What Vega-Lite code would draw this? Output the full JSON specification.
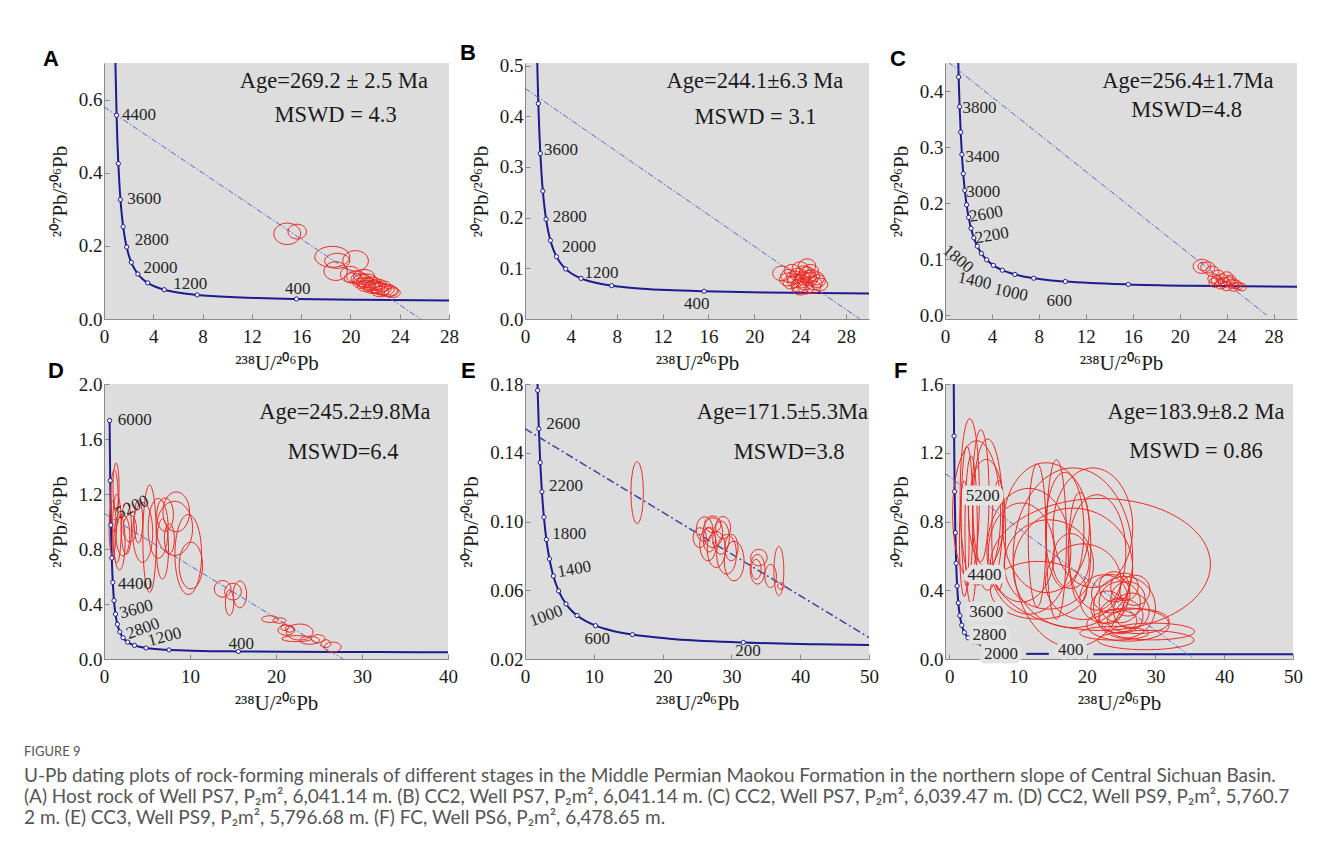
{
"$schema": "https://vega.github.io/schema/vega-lite/v6.json",
"background": "white",
"padding": {"left": 24, "top": 41, "right": 10, "bottom": 20},
"title": {"text": "FIGURE 9", "subtitle": ["U-Pb dating plots of rock-forming minerals of different stages in the Middle Permian Maokou Formation in the northern slope of Central Sichuan Basin.", "(A) Host rock of Well PS7, P₂m², 6,041.14 m. (B) CC2, Well PS7, P₂m², 6,041.14 m. (C) CC2, Well PS7, P₂m², 6,039.47 m. (D) CC2, Well PS9, P₂m², 5,760.7", "2 m. (E) CC3, Well PS9, P₂m², 5,796.68 m. (F) FC, Well PS6, P₂m², 6,478.65 m."], "orient": "bottom", "anchor": "start", "frame": "bounds", "offset": 33, "dx": -19, "font": "Lato", "fontSize": 13, "fontWeight": "normal", "color": "#555555", "subtitleFont": "Lato", "subtitleFontSize": 19, "subtitleColor": "#555555", "subtitlePadding": 8, "subtitleLineHeight": 21},
"datasets": {
"conc": [
{"t":6000,"x":0.6509,"y":1.7342},{"t":5600,"x":0.7226,"y":1.2968},{"t":5200,"x":0.8062,"y":0.9738},{"t":4800,"x":0.9045,"y":0.7347},{"t":4400,"x":1.0215,"y":0.5571},{"t":4200,"x":1.0887,"y":0.4862},{"t":4000,"x":1.163,"y":0.425},{"t":3800,"x":1.2453,"y":0.3721},{"t":3600,"x":1.337,"y":0.3264},{"t":3400,"x":1.4397,"y":0.2867},{"t":3200,"x":1.5557,"y":0.2524},{"t":3000,"x":1.6875,"y":0.2227},{"t":2800,"x":1.8384,"y":0.1968},{"t":2600,"x":2.0129,"y":0.1744},{"t":2400,"x":2.217,"y":0.1548},{"t":2200,"x":2.4586,"y":0.1378},{"t":2000,"x":2.749,"y":0.123},{"t":1800,"x":3.1046,"y":0.11},{"t":1600,"x":3.5496,"y":0.0987},{"t":1400,"x":4.1227,"y":0.0888},{"t":1200,"x":4.8876,"y":0.0801},{"t":1000,"x":5.9595,"y":0.0725},{"t":900,"x":6.6743,"y":0.069},{"t":800,"x":7.5636,"y":0.0658},{"t":700,"x":8.7183,"y":0.0628},{"t":600,"x":10.2518,"y":0.0599},{"t":500,"x":12.3996,"y":0.0572},{"t":400,"x":15.6211,"y":0.0547},{"t":300,"x":20.992,"y":0.0523},{"t":200,"x":31.735,"y":0.0501},{"t":150,"x":42.48,"y":0.0491},{"t":100,"x":63.97,"y":0.048}
],
"concE": [
{"t":3200,"x":1.5557,"y":0.2319},{"t":3000,"x":1.6875,"y":0.2022},{"t":2800,"x":1.8384,"y":0.1763},{"t":2600,"x":2.0129,"y":0.1539},{"t":2400,"x":2.217,"y":0.1343},{"t":2200,"x":2.4586,"y":0.1173},{"t":2000,"x":2.749,"y":0.1025},{"t":1800,"x":3.1046,"y":0.0895},{"t":1600,"x":3.5496,"y":0.0782},{"t":1400,"x":4.1227,"y":0.0683},{"t":1200,"x":4.8876,"y":0.0596},{"t":1000,"x":5.9595,"y":0.052},{"t":900,"x":6.6743,"y":0.0485},{"t":800,"x":7.5636,"y":0.0453},{"t":700,"x":8.7183,"y":0.0423},{"t":600,"x":10.2518,"y":0.0394},{"t":500,"x":12.3996,"y":0.0367},{"t":400,"x":15.6211,"y":0.0342},{"t":300,"x":20.992,"y":0.0318},{"t":200,"x":31.735,"y":0.0296},{"t":150,"x":42.48,"y":0.0286},{"t":100,"x":63.97,"y":0.0275}
],
"concF": [
{"s":1,"t":6000,"x":0.6509,"y":1.7342},{"s":1,"t":5600,"x":0.7226,"y":1.2968},{"s":1,"t":5200,"x":0.8062,"y":0.9738},{"s":1,"t":4800,"x":0.9045,"y":0.7347},{"s":1,"t":4400,"x":1.0215,"y":0.5571},{"s":1,"t":4200,"x":1.0887,"y":0.4862},{"s":1,"t":4000,"x":1.163,"y":0.425},{"s":1,"t":3600,"x":1.337,"y":0.3264},{"s":1,"t":3200,"x":1.5557,"y":0.2524},{"s":1,"t":2800,"x":1.8384,"y":0.1968},{"s":1,"t":2400,"x":2.217,"y":0.1548},{"s":1,"t":2000,"x":2.749,"y":0.123},{"s":1,"t":1600,"x":3.5496,"y":0.0987},{"s":1,"t":1200,"x":4.8876,"y":0.0801},
{"s":2,"t":0,"x":11.2,"y":0.03},{"s":2,"t":0,"x":14.5,"y":0.03},{"s":3,"t":0,"x":21,"y":0.028},{"s":3,"t":0,"x":50,"y":0.028}
],
"disc": [
{"p":"A","x":0,"y":0.58},{"p":"A","x":25.7,"y":0},
{"p":"B","x":0,"y":0.455},{"p":"B","x":29.2,"y":0},
{"p":"C","x":0.25,"y":0.452},{"p":"C","x":27.4,"y":0},
{"p":"D","x":0,"y":1.06},{"p":"D","x":27.8,"y":0},
{"p":"E","x":0,"y":0.154},{"p":"E","x":50,"y":0.0325},
{"p":"F","x":-0.6,"y":1.08},{"p":"F","x":35.6,"y":0}
],
"ann": [
{"p":"A","x":18.66,"y":0.651,"text":"Age=269.2 ± 2.5 Ma"},{"p":"A","x":18.8,"y":0.558,"text":"MSWD = 4.3"},
{"p":"B","x":20.05,"y":0.469,"text":"Age=244.1±6.3 Ma"},{"p":"B","x":20.1,"y":0.398,"text":"MSWD = 3.1"},
{"p":"C","x":20.7,"y":0.418,"text":"Age=256.4±1.7Ma"},{"p":"C","x":20.6,"y":0.366,"text":"MSWD=4.8"},
{"p":"D","x":28.0,"y":1.8,"text":"Age=245.2±9.8Ma"},{"p":"D","x":27.8,"y":1.505,"text":"MSWD=6.4"},
{"p":"E","x":37.4,"y":0.1639,"text":"Age=171.5±5.3Ma"},{"p":"E","x":38.4,"y":0.1406,"text":"MSWD=3.8"},
{"p":"F","x":35.9,"y":1.438,"text":"Age=183.9±8.2 Ma"},{"p":"F","x":35.9,"y":1.213,"text":"MSWD = 0.86"}
],
"lab": [
{"p":"A","x":2.85,"y":0.558,"text":"4400"},{"p":"A","x":3.26,"y":0.327,"text":"3600"},{"p":"A","x":3.88,"y":0.215,"text":"2800"},{"p":"A","x":4.58,"y":0.14,"text":"2000"},{"p":"A","x":7.0,"y":0.095,"text":"1200"},{"p":"A","x":15.73,"y":0.081,"text":"400"},
{"p":"B","x":3.14,"y":0.333,"text":"3600"},{"p":"B","x":3.9,"y":0.2016,"text":"2800"},{"p":"B","x":4.72,"y":0.142,"text":"2000"},{"p":"B","x":6.68,"y":0.09,"text":"1200"},{"p":"B","x":14.98,"y":0.029,"text":"400"},
{"p":"C","x":2.94,"y":0.37,"text":"3800"},{"p":"C","x":3.2,"y":0.283,"text":"3400"},{"p":"C","x":3.25,"y":0.22,"text":"3000"},{"p":"C","x":3.5,"y":0.18,"text":"2600"},{"p":"C","x":4.0,"y":0.142,"text":"2200"},{"p":"C","x":1.1,"y":0.1,"text":"1800"},{"p":"C","x":2.52,"y":0.061,"text":"1400"},{"p":"C","x":5.62,"y":0.04,"text":"1000"},{"p":"C","x":9.73,"y":0.025,"text":"600"},
{"p":"D","x":3.57,"y":1.736,"text":"6000"},{"p":"D","x":3.3,"y":1.105,"text":"5200"},{"p":"D","x":3.6,"y":0.548,"text":"4400"},{"p":"D","x":3.76,"y":0.361,"text":"3600"},{"p":"D","x":4.53,"y":0.22,"text":"2800"},{"p":"D","x":7.06,"y":0.16,"text":"1200"},{"p":"D","x":15.97,"y":0.107,"text":"400"},
{"p":"E","x":5.57,"y":0.1566,"text":"2600"},{"p":"E","x":5.95,"y":0.1207,"text":"2200"},{"p":"E","x":6.44,"y":0.0926,"text":"1800"},{"p":"E","x":7.16,"y":0.0722,"text":"1400"},{"p":"E","x":3.07,"y":0.045,"text":"1000"},{"p":"E","x":10.5,"y":0.0315,"text":"600"},{"p":"E","x":32.4,"y":0.0247,"text":"200"},
{"p":"F","x":4.9,"y":0.95,"text":"5200"},{"p":"F","x":5.13,"y":0.49,"text":"4400"},{"p":"F","x":5.38,"y":0.275,"text":"3600"},{"p":"F","x":5.86,"y":0.139,"text":"2800"},{"p":"F","x":7.56,"y":0.031,"text":"2000"},{"p":"F","x":17.7,"y":0.051,"text":"400"}
],
"ell": [
{"p":"A","x":14.87,"y":0.233,"a":1.09,"r":"0.8"},{"p":"A","x":15.68,"y":0.239,"a":0.75,"r":"0.8"},{"p":"A","x":18.53,"y":0.17,"a":1.42,"r":"0.6"},{"p":"A","x":18.93,"y":0.159,"a":1.02,"r":"0.6"},{"p":"A","x":20.42,"y":0.159,"a":1.04,"r":"0.8"},{"p":"A","x":18.8,"y":0.131,"a":0.95,"r":"0.8"},{"p":"A","x":20.0,"y":0.122,"a":0.81,"r":"0.8"},
{"p":"A","x":20.5,"y":0.115,"a":0.8,"r":"0.6"},{"p":"A","x":20.8,"y":0.11,"a":0.75,"r":"0.6"},{"p":"A","x":21.0,"y":0.105,"a":0.8,"r":"0.6"},{"p":"A","x":21.2,"y":0.1,"a":0.7,"r":"0.6"},{"p":"A","x":21.4,"y":0.108,"a":0.75,"r":"0.6"},{"p":"A","x":21.5,"y":0.095,"a":0.8,"r":"0.6"},{"p":"A","x":21.7,"y":0.1,"a":0.75,"r":"0.6"},{"p":"A","x":21.9,"y":0.092,"a":0.7,"r":"0.6"},{"p":"A","x":22.0,"y":0.088,"a":0.8,"r":"0.6"},{"p":"A","x":22.2,"y":0.095,"a":0.7,"r":"0.6"},{"p":"A","x":22.3,"y":0.085,"a":0.75,"r":"0.6"},{"p":"A","x":22.5,"y":0.082,"a":0.8,"r":"0.6"},{"p":"A","x":22.6,"y":0.09,"a":0.7,"r":"0.6"},{"p":"A","x":22.8,"y":0.08,"a":0.75,"r":"0.6"},{"p":"A","x":23.0,"y":0.078,"a":0.8,"r":"0.6"},{"p":"A","x":23.2,"y":0.076,"a":0.7,"r":"0.6"},{"p":"A","x":21.1,"y":0.118,"a":0.85,"r":"0.6"},{"p":"A","x":20.2,"y":0.112,"a":0.7,"r":"0.6"},{"p":"A","x":21.8,"y":0.085,"a":0.75,"r":"0.6"},{"p":"A","x":22.4,"y":0.075,"a":0.7,"r":"0.6"},{"p":"A","x":23.4,"y":0.072,"a":0.65,"r":"0.6"},{"p":"A","x":21.3,"y":0.09,"a":0.75,"r":"0.6"},{"p":"A","x":20.9,"y":0.098,"a":0.7,"r":"0.6"},
{"p":"B","x":23.0,"y":0.085,"a":0.7,"r":"0.8"},{"p":"B","x":23.3,"y":0.095,"a":0.7,"r":"0.8"},{"p":"B","x":23.6,"y":0.075,"a":0.7,"r":"0.8"},{"p":"B","x":23.8,"y":0.088,"a":0.7,"r":"0.8"},{"p":"B","x":24.0,"y":0.1,"a":0.7,"r":"0.8"},{"p":"B","x":24.2,"y":0.08,"a":0.7,"r":"0.8"},{"p":"B","x":24.4,"y":0.07,"a":0.7,"r":"0.8"},{"p":"B","x":24.6,"y":0.09,"a":0.7,"r":"0.8"},{"p":"B","x":24.8,"y":0.078,"a":0.7,"r":"0.8"},{"p":"B","x":25.0,"y":0.085,"a":0.7,"r":"0.8"},{"p":"B","x":25.2,"y":0.07,"a":0.7,"r":"0.8"},{"p":"B","x":25.5,"y":0.075,"a":0.7,"r":"0.8"},{"p":"B","x":23.2,"y":0.072,"a":0.7,"r":"0.8"},{"p":"B","x":23.9,"y":0.066,"a":0.7,"r":"0.8"},{"p":"B","x":24.5,"y":0.062,"a":0.7,"r":"0.8"},{"p":"B","x":25.1,"y":0.063,"a":0.7,"r":"0.8"},{"p":"B","x":25.7,"y":0.068,"a":0.7,"r":"0.8"},{"p":"B","x":24.3,"y":0.092,"a":0.7,"r":"0.8"},{"p":"B","x":23.5,"y":0.082,"a":0.7,"r":"0.8"},{"p":"B","x":24.7,"y":0.083,"a":0.7,"r":"0.8"},{"p":"B","x":24.1,"y":0.074,"a":0.7,"r":"0.8"},{"p":"B","x":25.4,"y":0.08,"a":0.7,"r":"0.8"},{"p":"B","x":22.9,"y":0.078,"a":0.7,"r":"0.8"},{"p":"B","x":24.0,"y":0.06,"a":0.7,"r":"0.8"},{"p":"B","x":24.9,"y":0.095,"a":0.7,"r":"0.8"},{"p":"B","x":22.4,"y":0.09,"a":0.8,"r":"0.8"},{"p":"B","x":24.6,"y":0.105,"a":0.75,"r":"0.8"},
{"p":"C","x":21.9,"y":0.087,"a":0.75,"r":"0.8"},{"p":"C","x":22.0,"y":0.087,"a":0.45,"r":"0.8"},{"p":"C","x":22.4,"y":0.085,"a":0.6,"r":"0.8"},{"p":"C","x":22.8,"y":0.078,"a":0.55,"r":"0.8"},{"p":"C","x":23.3,"y":0.072,"a":0.5,"r":"0.8"},{"p":"C","x":23.6,"y":0.065,"a":0.5,"r":"0.8"},{"p":"C","x":24.0,"y":0.068,"a":0.55,"r":"0.8"},{"p":"C","x":23.2,"y":0.062,"a":0.5,"r":"0.8"},{"p":"C","x":23.8,"y":0.058,"a":0.5,"r":"0.8"},{"p":"C","x":24.2,"y":0.06,"a":0.5,"r":"0.8"},{"p":"C","x":24.5,"y":0.056,"a":0.5,"r":"0.8"},{"p":"C","x":24.8,"y":0.055,"a":0.45,"r":"0.8"},{"p":"C","x":23.5,"y":0.055,"a":0.5,"r":"0.8"},{"p":"C","x":24.0,"y":0.052,"a":0.5,"r":"0.8"},{"p":"C","x":24.6,"y":0.05,"a":0.45,"r":"0.8"},{"p":"C","x":25.0,"y":0.052,"a":0.4,"r":"0.8"},{"p":"C","x":25.3,"y":0.05,"a":0.4,"r":"0.8"},{"p":"C","x":23.0,"y":0.058,"a":0.5,"r":"0.8"},{"p":"C","x":24.3,"y":0.063,"a":0.5,"r":"0.8"},{"p":"C","x":22.9,"y":0.065,"a":0.5,"r":"0.8"},
{"p":"D","x":1.2,"y":1.15,"a":0.45,"r":"8"},{"p":"D","x":1.5,"y":0.95,"a":0.5,"r":"8"},{"p":"D","x":1.0,"y":0.95,"a":0.4,"r":"8"},{"p":"D","x":1.8,"y":0.85,"a":0.65,"r":"5"},{"p":"D","x":2.2,"y":0.9,"a":0.8,"r":"3"},{"p":"D","x":1.4,"y":1.25,"a":0.35,"r":"8"},{"p":"D","x":2.6,"y":0.95,"a":0.6,"r":"5"},{"p":"D","x":3.0,"y":0.95,"a":0.78,"r":"2"},{"p":"D","x":4.5,"y":0.92,"a":1.16,"r":"3"},{"p":"D","x":5.3,"y":0.875,"a":0.78,"r":"8"},{"p":"D","x":6.3,"y":0.95,"a":1.16,"r":"3"},{"p":"D","x":7.1,"y":1.05,"a":0.97,"r":"2"},{"p":"D","x":8.2,"y":0.95,"a":2.1,"r":"1.5"},{"p":"D","x":8.4,"y":1.07,"a":1.55,"r":"1.5"},{"p":"D","x":9.8,"y":0.76,"a":1.55,"r":"3"},{"p":"D","x":10.1,"y":0.68,"a":1.36,"r":"2"},{"p":"D","x":7.6,"y":0.875,"a":0.58,"r":"3"},{"p":"D","x":4.0,"y":1.0,"a":0.5,"r":"5"},{"p":"D","x":6.8,"y":0.8,"a":0.7,"r":"5"},{"p":"D","x":13.8,"y":0.51,"a":0.97,"r":"1"},{"p":"D","x":15.0,"y":0.49,"a":0.97,"r":"1"},{"p":"D","x":14.6,"y":0.41,"a":0.49,"r":"3"},{"p":"D","x":15.8,"y":0.47,"a":0.78,"r":"2"},{"p":"D","x":19.3,"y":0.29,"a":0.97,"r":"0.4"},{"p":"D","x":20.4,"y":0.28,"a":0.78,"r":"0.4"},{"p":"D","x":21.2,"y":0.21,"a":0.97,"r":"0.6"},{"p":"D","x":22.75,"y":0.196,"a":1.55,"r":"0.6"},{"p":"D","x":22.4,"y":0.148,"a":1.74,"r":"0.2"},{"p":"D","x":23.9,"y":0.136,"a":1.16,"r":"0.4"},{"p":"D","x":24.9,"y":0.148,"a":0.78,"r":"0.6"},{"p":"D","x":26.6,"y":0.087,"a":0.97,"r":"0.6"},{"p":"D","x":25.8,"y":0.111,"a":0.58,"r":"0.8"},{"p":"D","x":21.6,"y":0.22,"a":0.5,"r":"0.8"},{"p":"D","x":21.0,"y":0.23,"a":0.45,"r":"0.8"},
{"p":"E","x":16.3,"y":0.1168,"a":0.9,"r":"5"},{"p":"E","x":26.1,"y":0.0955,"a":1.2,"r":"1.5"},{"p":"E","x":27.3,"y":0.0935,"a":1.44,"r":"1.5"},{"p":"E","x":28.5,"y":0.0906,"a":1.2,"r":"2"},{"p":"E","x":26.6,"y":0.0867,"a":1.2,"r":"2"},{"p":"E","x":27.8,"y":0.0838,"a":1.32,"r":"2"},{"p":"E","x":29.3,"y":0.0809,"a":1.44,"r":"2"},{"p":"E","x":30.4,"y":0.077,"a":1.44,"r":"2"},{"p":"E","x":25.4,"y":0.0906,"a":0.96,"r":"1.5"},{"p":"E","x":27.3,"y":0.0984,"a":1.2,"r":"1"},{"p":"E","x":28.8,"y":0.0964,"a":1.08,"r":"1.5"},{"p":"E","x":30.0,"y":0.0848,"a":0.96,"r":"2"},{"p":"E","x":33.8,"y":0.0722,"a":1.08,"r":"2"},{"p":"E","x":33.6,"y":0.0722,"a":0.72,"r":"2"},{"p":"E","x":35.7,"y":0.0683,"a":0.84,"r":"2"},{"p":"E","x":36.9,"y":0.0712,"a":0.72,"r":"5"},{"p":"E","x":37.2,"y":0.0625,"a":0.48,"r":"1"},{"p":"E","x":34.0,"y":0.079,"a":1.2,"r":"1"},{"p":"E","x":26.8,"y":0.0895,"a":0.9,"r":"2"},
{"p":"F","x":2.6,"y":0.83,"a":0.85,"r":"12"},{"p":"F","x":3.2,"y":0.75,"a":0.9,"r":"12"},{"p":"F","x":3.0,"y":0.95,"a":1.4,"r":"8"},{"p":"F","x":5.6,"y":0.84,"a":2.2,"r":"5"},{"p":"F","x":4.0,"y":0.85,"a":3.5,"r":"3"},{"p":"F","x":14.1,"y":0.764,"a":6.3,"r":"1.5"},{"p":"F","x":11.6,"y":0.627,"a":6.1,"r":"1.5"},{"p":"F","x":20.9,"y":0.764,"a":5.8,"r":"1.5"},{"p":"F","x":17.7,"y":0.57,"a":2.66,"r":"1.5"},{"p":"F","x":22,"y":0.55,"a":16,"r":"0.6"},{"p":"F","x":18,"y":0.59,"a":8.7,"r":"1.5"},{"p":"F","x":18,"y":0.53,"a":8.7,"r":"1"},{"p":"F","x":15.6,"y":0.695,"a":1.45,"r":"8"},{"p":"F","x":19.0,"y":0.65,"a":1.6,"r":"5"},{"p":"F","x":24.8,"y":0.33,"a":3.0,"r":"1"},{"p":"F","x":23.5,"y":0.38,"a":2.8,"r":"1"},{"p":"F","x":26,"y":0.35,"a":2.5,"r":"1"},{"p":"F","x":25,"y":0.25,"a":3.2,"r":"0.8"},{"p":"F","x":24,"y":0.42,"a":2.2,"r":"1"},{"p":"F","x":26.5,"y":0.28,"a":2.6,"r":"1"},{"p":"F","x":23,"y":0.3,"a":2.4,"r":"1"},{"p":"F","x":25.5,"y":0.42,"a":2.0,"r":"1"},{"p":"F","x":24.5,"y":0.22,"a":2.8,"r":"0.6"},{"p":"F","x":22.5,"y":0.35,"a":3.5,"r":"1"},{"p":"F","x":27,"y":0.4,"a":2.2,"r":"1"},{"p":"F","x":25.5,"y":0.3,"a":4.5,"r":"1"},{"p":"F","x":29.6,"y":0.16,"a":6.1,"r":"0.2"},{"p":"F","x":28.6,"y":0.11,"a":7.0,"r":"0.2"},{"p":"F","x":26,"y":0.2,"a":6,"r":"0.4"},
{"p":"F","x":2.2,"y":0.7,"a":0.7,"r":"12"},{"p":"F","x":4.6,"y":0.95,"a":1.2,"r":"8"},{"p":"F","x":5.4,"y":0.85,"a":2.6,"r":"3"},{"p":"F","x":7.2,"y":0.72,"a":1.0,"r":"8"},{"p":"F","x":12.8,"y":0.72,"a":1.3,"r":"8"},{"p":"F","x":10.5,"y":0.62,"a":4.8,"r":"1.5"},{"p":"F","x":14.5,"y":0.55,"a":6.5,"r":"1"},{"p":"F","x":16.8,"y":0.75,"a":2.8,"r":"3"},{"p":"F","x":21.5,"y":0.62,"a":4.2,"r":"2"},{"p":"F","x":19.5,"y":0.45,"a":5.5,"r":"1"},{"p":"F","x":13,"y":0.4,"a":7,"r":"0.6"},{"p":"F","x":27.5,"y":0.22,"a":4.5,"r":"0.4"},{"p":"F","x":24,"y":0.15,"a":5,"r":"0.2"}
]
},
"columns": 3,
"spacing": {"row": 65, "column": 76},
"bounds": "flush",
"resolve": {"scale": {"size": "independent", "shape": "independent"}},
"concat": [
{
"width": 345, "height": 256,
"title": {"text": "A", "anchor": "start", "frame": "group", "dx": -61, "dy": 25, "offset": 0, "baseline": "alphabetic", "font": "Liberation Sans", "fontSize": 22, "fontWeight": "bold", "color": "#000000"},
"encoding": {
"x": {"field": "x", "type": "quantitative", "scale": {"domain": [0, 28], "nice": false, "zero": false}, "axis": {"values": [0,4,8,12,16,20,24,28], "format": "d", "title": "²³⁸U/²⁰⁶Pb"}},
"y": {"field": "y", "type": "quantitative", "scale": {"domain": [0, 0.7], "nice": false, "zero": false}, "axis": {"values": [0,0.2,0.4,0.6], "format": ".1f", "title": "²⁰⁷Pb/²⁰⁶Pb"}}
},
"layer": [
{"data": {"name": "conc"}, "mark": {"type": "line", "stroke": "#1c1c8f", "strokeWidth": 2, "clip": true, "interpolate": "monotone"}},
{"data": {"name": "disc"}, "transform": [{"filter": "datum.p=='A'"}], "mark": {"type": "line", "stroke": "#5468cc", "strokeWidth": 1, "strokeDash": [6,2,1.5,2], "clip": true}},
{"data": {"name": "ell"}, "transform": [{"filter": "datum.p=='A'"}], "mark": {"type": "point", "filled": false, "stroke": "#ee2a22", "strokeWidth": 1, "opacity": 1, "clip": true}, "encoding": {"shape": {"field": "r", "type": "nominal", "scale": {"domain": ["0.2","0.4","0.6","0.8","1","1.5","2","3","5","8","12"]}, "legend": null}, "size": {"field": "a", "type": "quantitative", "scale": {"type": "pow", "exponent": 2, "domain": [0, 1], "range": [0, 607]}, "legend": null}}},
{"data": {"name": "conc"}, "transform": [{"filter": "datum.t>=400 && datum.t<=4400 && datum.t%400==0"}], "mark": {"type": "point", "filled": true, "fill": "white", "stroke": "#1c1c8f", "strokeWidth": 1, "size": 18, "opacity": 1, "clip": true}},
{"data": {"name": "lab"}, "transform": [{"filter": "datum.p=='A'"}], "mark": {"type": "text", "font": "Liberation Serif", "fontSize": 17, "color": "#262626", "align": "center", "baseline": "middle"}, "encoding": {"text": {"field": "text", "type": "nominal"}}},
{"data": {"name": "ann"}, "transform": [{"filter": "datum.p=='A'"}], "mark": {"type": "text", "font": "Liberation Serif", "fontSize": 22.5, "color": "#1a1a1a", "align": "center", "baseline": "middle"}, "encoding": {"text": {"field": "text", "type": "nominal"}}}
]
},
{
"width": 344, "height": 256,
"title": {"text": "B", "anchor": "start", "frame": "group", "dx": -65, "dy": 25, "offset": 0, "baseline": "alphabetic", "font": "Liberation Sans", "fontSize": 22, "fontWeight": "bold", "color": "#000000"},
"encoding": {
"x": {"field": "x", "type": "quantitative", "scale": {"domain": [0, 30], "nice": false, "zero": false}, "axis": {"values": [0,4,8,12,16,20,24,28], "format": "d", "title": "²³⁸U/²⁰⁶Pb"}},
"y": {"field": "y", "type": "quantitative", "scale": {"domain": [0, 0.505], "nice": false, "zero": false}, "axis": {"values": [0,0.1,0.2,0.3,0.4,0.5], "format": ".1f", "title": "²⁰⁷Pb/²⁰⁶Pb"}}
},
"layer": [
{"data": {"name": "conc"}, "mark": {"type": "line", "stroke": "#1c1c8f", "strokeWidth": 2, "clip": true, "interpolate": "monotone"}},
{"data": {"name": "disc"}, "transform": [{"filter": "datum.p=='B'"}], "mark": {"type": "line", "stroke": "#5468cc", "strokeWidth": 1, "strokeDash": [6,2,1.5,2], "clip": true}},
{"data": {"name": "ell"}, "transform": [{"filter": "datum.p=='B'"}], "mark": {"type": "point", "filled": false, "stroke": "#ee2a22", "strokeWidth": 1, "opacity": 1, "clip": true}, "encoding": {"shape": {"field": "r", "type": "nominal", "scale": {"domain": ["0.2","0.4","0.6","0.8","1","1.5","2","3","5","8","12"]}, "legend": null}, "size": {"field": "a", "type": "quantitative", "scale": {"type": "pow", "exponent": 2, "domain": [0, 1], "range": [0, 526]}, "legend": null}}},
{"data": {"name": "conc"}, "transform": [{"filter": "datum.t>=400 && datum.t<=4400 && datum.t%400==0"}], "mark": {"type": "point", "filled": true, "fill": "white", "stroke": "#1c1c8f", "strokeWidth": 1, "size": 18, "opacity": 1, "clip": true}},
{"data": {"name": "lab"}, "transform": [{"filter": "datum.p=='B'"}], "mark": {"type": "text", "font": "Liberation Serif", "fontSize": 17, "color": "#262626", "align": "center", "baseline": "middle"}, "encoding": {"text": {"field": "text", "type": "nominal"}}},
{"data": {"name": "ann"}, "transform": [{"filter": "datum.p=='B'"}], "mark": {"type": "text", "font": "Liberation Serif", "fontSize": 22.5, "color": "#1a1a1a", "align": "center", "baseline": "middle"}, "encoding": {"text": {"field": "text", "type": "nominal"}}}
]
},
{
"width": 352, "height": 256,
"title": {"text": "C", "anchor": "start", "frame": "group", "dx": -55, "dy": 25, "offset": 0, "baseline": "alphabetic", "font": "Liberation Sans", "fontSize": 22, "fontWeight": "bold", "color": "#000000"},
"encoding": {
"x": {"field": "x", "type": "quantitative", "scale": {"domain": [0, 30], "nice": false, "zero": false}, "axis": {"values": [0,4,8,12,16,20,24,28], "format": "d", "title": "²³⁸U/²⁰⁶Pb"}},
"y": {"field": "y", "type": "quantitative", "scale": {"domain": [-0.007, 0.45], "nice": false, "zero": false}, "axis": {"values": [0,0.1,0.2,0.3,0.4], "format": ".1f", "title": "²⁰⁷Pb/²⁰⁶Pb"}}
},
"layer": [
{"data": {"name": "conc"}, "mark": {"type": "line", "stroke": "#1c1c8f", "strokeWidth": 2, "clip": true, "interpolate": "monotone"}},
{"data": {"name": "disc"}, "transform": [{"filter": "datum.p=='C'"}], "mark": {"type": "line", "stroke": "#5468cc", "strokeWidth": 1, "strokeDash": [6,2,1.5,2], "clip": true}},
{"data": {"name": "ell"}, "transform": [{"filter": "datum.p=='C'"}], "mark": {"type": "point", "filled": false, "stroke": "#ee2a22", "strokeWidth": 1, "opacity": 1, "clip": true}, "encoding": {"shape": {"field": "r", "type": "nominal", "scale": {"domain": ["0.2","0.4","0.6","0.8","1","1.5","2","3","5","8","12"]}, "legend": null}, "size": {"field": "a", "type": "quantitative", "scale": {"type": "pow", "exponent": 2, "domain": [0, 1], "range": [0, 551]}, "legend": null}}},
{"data": {"name": "conc"}, "transform": [{"filter": "datum.t>=400 && datum.t<=4000 && datum.t%200==0"}], "mark": {"type": "point", "filled": true, "fill": "white", "stroke": "#1c1c8f", "strokeWidth": 1, "size": 18, "opacity": 1, "clip": true}},
{"data": {"name": "lab"}, "transform": [{"filter": "datum.p=='C'"}], "mark": {"type": "text", "font": "Liberation Serif", "fontSize": 17, "color": "#262626", "align": "center", "baseline": "middle"}, "encoding": {"text": {"field": "text", "type": "nominal"}, "angle": {"condition": [{"test": "datum.text=='1800'", "value": 40}, {"test": "datum.text=='1400' || datum.text=='1000'", "value": 12}, {"test": "datum.text=='2600' || datum.text=='2200'", "value": -10}], "value": 0}}},
{"data": {"name": "ann"}, "transform": [{"filter": "datum.p=='C'"}], "mark": {"type": "text", "font": "Liberation Serif", "fontSize": 22.5, "color": "#1a1a1a", "align": "center", "baseline": "middle"}, "encoding": {"text": {"field": "text", "type": "nominal"}}}
]
},
{
"width": 344, "height": 275,
"title": {"text": "D", "anchor": "start", "frame": "group", "dx": -56, "dy": 25, "offset": 0, "baseline": "alphabetic", "font": "Liberation Sans", "fontSize": 22, "fontWeight": "bold", "color": "#000000"},
"encoding": {
"x": {"field": "x", "type": "quantitative", "scale": {"domain": [0, 40], "nice": false, "zero": false}, "axis": {"values": [0,10,20,30,40], "format": "d", "title": "²³⁸U/²⁰⁶Pb"}},
"y": {"field": "y", "type": "quantitative", "scale": {"domain": [0, 2], "nice": false, "zero": false}, "axis": {"values": [0,0.4,0.8,1.2,1.6,2.0], "format": ".1f", "title": "²⁰⁷Pb/²⁰⁶Pb"}}
},
"layer": [
{"data": {"name": "conc"}, "mark": {"type": "line", "stroke": "#1c1c8f", "strokeWidth": 2, "clip": true, "interpolate": "monotone"}},
{"data": {"name": "disc"}, "transform": [{"filter": "datum.p=='D'"}], "mark": {"type": "line", "stroke": "#5468cc", "strokeWidth": 1, "strokeDash": [6,2,1.5,2], "clip": true}},
{"data": {"name": "ell"}, "transform": [{"filter": "datum.p=='D'"}], "mark": {"type": "point", "filled": false, "stroke": "#ee2a22", "strokeWidth": 1, "opacity": 1, "clip": true}, "encoding": {"shape": {"field": "r", "type": "nominal", "scale": {"domain": ["0.2","0.4","0.6","0.8","1","1.5","2","3","5","8","12"]}, "legend": null}, "size": {"field": "a", "type": "quantitative", "scale": {"type": "pow", "exponent": 2, "domain": [0, 1], "range": [0, 296]}, "legend": null}}},
{"data": {"name": "conc"}, "transform": [{"filter": "datum.t>=400 && datum.t%400==0"}], "mark": {"type": "point", "filled": true, "fill": "white", "stroke": "#1c1c8f", "strokeWidth": 1, "size": 18, "opacity": 1, "clip": true}},
{"data": {"name": "lab"}, "transform": [{"filter": "datum.p=='D'"}], "mark": {"type": "text", "font": "Liberation Serif", "fontSize": 17, "color": "#262626", "align": "center", "baseline": "middle"}, "encoding": {"text": {"field": "text", "type": "nominal"}, "angle": {"condition": [{"test": "datum.text=='5200'", "value": -25}, {"test": "datum.text=='2800'", "value": -20}, {"test": "datum.text=='3600' || datum.text=='1200'", "value": -15}], "value": 0}}},
{"data": {"name": "ann"}, "transform": [{"filter": "datum.p=='D'"}], "mark": {"type": "text", "font": "Liberation Serif", "fontSize": 22.5, "color": "#1a1a1a", "align": "center", "baseline": "middle"}, "encoding": {"text": {"field": "text", "type": "nominal"}}}
]
},
{
"width": 344, "height": 275,
"title": {"text": "E", "anchor": "start", "frame": "group", "dx": -64, "dy": 25, "offset": 0, "baseline": "alphabetic", "font": "Liberation Sans", "fontSize": 22, "fontWeight": "bold", "color": "#000000"},
"encoding": {
"x": {"field": "x", "type": "quantitative", "scale": {"domain": [0, 50], "nice": false, "zero": false}, "axis": {"values": [0,10,20,30,40,50], "format": "d", "title": "²³⁸U/²⁰⁶Pb"}},
"y": {"field": "y", "type": "quantitative", "scale": {"domain": [0.02, 0.18], "nice": false, "zero": false}, "axis": {"values": [0.02,0.06,0.10,0.14,0.18], "format": ".2f", "title": "²⁰⁷Pb/²⁰⁶Pb"}}
},
"layer": [
{"data": {"name": "concE"}, "mark": {"type": "line", "stroke": "#1c1c8f", "strokeWidth": 2, "clip": true, "interpolate": "monotone"}},
{"data": {"name": "disc"}, "transform": [{"filter": "datum.p=='E'"}], "mark": {"type": "line", "stroke": "#3c469e", "strokeWidth": 1.5, "strokeDash": [8,3,2,3], "clip": true}},
{"data": {"name": "ell"}, "transform": [{"filter": "datum.p=='E'"}], "mark": {"type": "point", "filled": false, "stroke": "#ee2a22", "strokeWidth": 1, "opacity": 1, "clip": true}, "encoding": {"shape": {"field": "r", "type": "nominal", "scale": {"domain": ["0.2","0.4","0.6","0.8","1","1.5","2","3","5","8","12"]}, "legend": null}, "size": {"field": "a", "type": "quantitative", "scale": {"type": "pow", "exponent": 2, "domain": [0, 1], "range": [0, 189]}, "legend": null}}},
{"data": {"name": "concE"}, "transform": [{"filter": "datum.t>=200 && datum.t<=2800 && datum.t%200==0"}], "mark": {"type": "point", "filled": true, "fill": "white", "stroke": "#1c1c8f", "strokeWidth": 1, "size": 18, "opacity": 1, "clip": true}},
{"data": {"name": "lab"}, "transform": [{"filter": "datum.p=='E'"}], "mark": {"type": "text", "font": "Liberation Serif", "fontSize": 17, "color": "#262626", "align": "center", "baseline": "middle"}, "encoding": {"text": {"field": "text", "type": "nominal"}, "angle": {"condition": [{"test": "datum.text=='1000'", "value": -20}, {"test": "datum.text=='1400'", "value": -10}], "value": 0}}},
{"data": {"name": "ann"}, "transform": [{"filter": "datum.p=='E'"}], "mark": {"type": "text", "font": "Liberation Serif", "fontSize": 22.5, "color": "#1a1a1a", "align": "center", "baseline": "middle"}, "encoding": {"text": {"field": "text", "type": "nominal"}}}
]
},
{
"width": 348, "height": 275,
"title": {"text": "F", "anchor": "start", "frame": "group", "dx": -51, "dy": 25, "offset": 0, "baseline": "alphabetic", "font": "Liberation Sans", "fontSize": 22, "fontWeight": "bold", "color": "#000000"},
"encoding": {
"x": {"field": "x", "type": "quantitative", "scale": {"domain": [-0.6, 50], "nice": false, "zero": false}, "axis": {"values": [0,10,20,30,40,50], "format": "d", "title": "²³⁸U/²⁰⁶Pb"}},
"y": {"field": "y", "type": "quantitative", "scale": {"domain": [0, 1.6], "nice": false, "zero": false}, "axis": {"values": [0,0.4,0.8,1.2,1.6], "format": ".1f", "title": "²⁰⁷Pb/²⁰⁶Pb"}}
},
"layer": [
{"data": {"name": "concF"}, "mark": {"type": "line", "stroke": "#1c1c8f", "strokeWidth": 2, "clip": true, "interpolate": "monotone"}, "encoding": {"detail": {"field": "s", "type": "nominal"}}},
{"data": {"name": "disc"}, "transform": [{"filter": "datum.p=='F'"}], "mark": {"type": "line", "stroke": "#5468cc", "strokeWidth": 1, "strokeDash": [6,2,1.5,2], "clip": true}},
{"data": {"name": "ell"}, "transform": [{"filter": "datum.p=='F'"}], "mark": {"type": "point", "filled": false, "stroke": "#ee2a22", "strokeWidth": 1, "opacity": 1, "clip": true}, "encoding": {"shape": {"field": "r", "type": "nominal", "scale": {"domain": ["0.2","0.4","0.6","0.8","1","1.5","2","3","5","8","12"]}, "legend": null}, "size": {"field": "a", "type": "quantitative", "scale": {"type": "pow", "exponent": 2, "domain": [0, 1], "range": [0, 189]}, "legend": null}}},
{"data": {"name": "concF"}, "transform": [{"filter": "datum.s==1 && datum.t>=1200 && datum.t<=5600 && datum.t%400==0"}], "mark": {"type": "point", "filled": true, "fill": "white", "stroke": "#1c1c8f", "strokeWidth": 1, "size": 18, "opacity": 1, "clip": true}},
{"data": {"name": "lab"}, "transform": [{"filter": "datum.p=='F'"}], "mark": {"type": "text", "font": "Liberation Serif", "fontSize": 17, "color": "#e3e3e3", "stroke": "#e3e3e3", "strokeWidth": 9, "strokeJoin": "round", "align": "center", "baseline": "middle"}, "encoding": {"text": {"field": "text", "type": "nominal"}}},
{"data": {"name": "lab"}, "transform": [{"filter": "datum.p=='F'"}], "mark": {"type": "text", "font": "Liberation Serif", "fontSize": 17, "color": "#262626", "align": "center", "baseline": "middle"}, "encoding": {"text": {"field": "text", "type": "nominal"}}},
{"data": {"name": "ann"}, "transform": [{"filter": "datum.p=='F'"}], "mark": {"type": "text", "font": "Liberation Serif", "fontSize": 22.5, "color": "#1a1a1a", "align": "center", "baseline": "middle"}, "encoding": {"text": {"field": "text", "type": "nominal"}}}
]
}
],
"config": {
"view": {"stroke": null, "fill": "#dddddd"},
"range": {"symbol": [
"M-1,0C-1,-0.1105 -0.5523,-0.2 0,-0.2C0.5523,-0.2 1,-0.1105 1,0C1,0.1105 0.5523,0.2 0,0.2C-0.5523,0.2 -1,0.1105 -1,0Z",
"M-1,0C-1,-0.2209 -0.5523,-0.4 0,-0.4C0.5523,-0.4 1,-0.2209 1,0C1,0.2209 0.5523,0.4 0,0.4C-0.5523,0.4 -1,0.2209 -1,0Z",
"M-1,0C-1,-0.3314 -0.5523,-0.6 0,-0.6C0.5523,-0.6 1,-0.3314 1,0C1,0.3314 0.5523,0.6 0,0.6C-0.5523,0.6 -1,0.3314 -1,0Z",
"M-1,0C-1,-0.4418 -0.5523,-0.8 0,-0.8C0.5523,-0.8 1,-0.4418 1,0C1,0.4418 0.5523,0.8 0,0.8C-0.5523,0.8 -1,0.4418 -1,0Z",
"M-1,0C-1,-0.5523 -0.5523,-1 0,-1C0.5523,-1 1,-0.5523 1,0C1,0.5523 0.5523,1 0,1C-0.5523,1 -1,0.5523 -1,0Z",
"M-1,0C-1,-0.8284 -0.5523,-1.5 0,-1.5C0.5523,-1.5 1,-0.8284 1,0C1,0.8284 0.5523,1.5 0,1.5C-0.5523,1.5 -1,0.8284 -1,0Z",
"M-1,0C-1,-1.1046 -0.5523,-2 0,-2C0.5523,-2 1,-1.1046 1,0C1,1.1046 0.5523,2 0,2C-0.5523,2 -1,1.1046 -1,0Z",
"M-1,0C-1,-1.6569 -0.5523,-3 0,-3C0.5523,-3 1,-1.6569 1,0C1,1.6569 0.5523,3 0,3C-0.5523,3 -1,1.6569 -1,0Z",
"M-1,0C-1,-2.7615 -0.5523,-5 0,-5C0.5523,-5 1,-2.7615 1,0C1,2.7615 0.5523,5 0,5C-0.5523,5 -1,2.7615 -1,0Z",
"M-1,0C-1,-4.4184 -0.5523,-8 0,-8C0.5523,-8 1,-4.4184 1,0C1,4.4184 0.5523,8 0,8C-0.5523,8 -1,4.4184 -1,0Z",
"M-1,0C-1,-6.6276 -0.5523,-12 0,-12C0.5523,-12 1,-6.6276 1,0C1,6.6276 0.5523,12 0,12C-0.5523,12 -1,6.6276 -1,0Z"
]},
"axis": {"labelFont": "Liberation Serif", "labelFontSize": 19, "labelColor": "#1a1a1a", "titleFont": "Liberation Serif", "titleFontSize": 21, "titleFontWeight": "normal", "titleColor": "#1a1a1a", "domainColor": "#8a8a8a", "tickColor": "#8a8a8a", "tickSize": -5, "grid": false, "labelFlush": false, "labelOverlap": false},
"axisX": {"labelPadding": 13, "titlePadding": 6},
"axisY": {"labelPadding": 7, "titlePadding": 8}
}
}
